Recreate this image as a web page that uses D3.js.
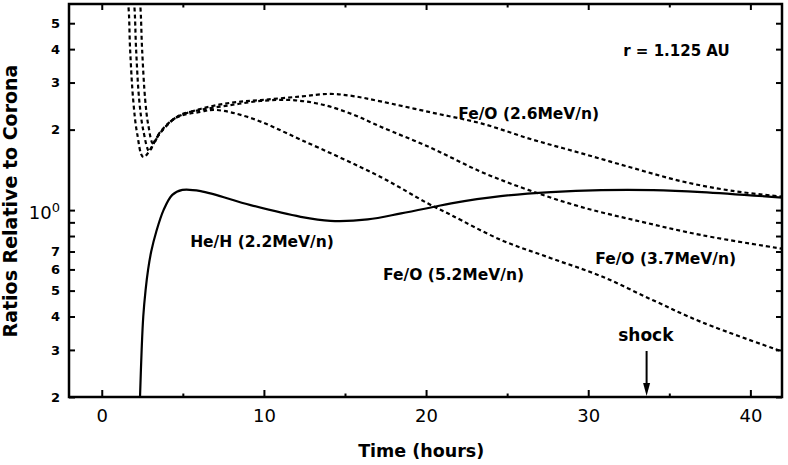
<!DOCTYPE html>
<html>
<head>
<meta charset="utf-8">
<script src="https://cdn.jsdelivr.net/npm/d3@7"></script>
<style>
  body { margin: 0; background: #fff; }
  svg { display: block; }
  text { font-family: "DejaVu Sans", sans-serif; fill: #000; }
</style>
</head>
<body>
<div id="chart"></div>
<script>
// Fe/O (2.6 MeV/n) - starts above the frame, dips, peaks late and decays slowly
const feo26Time  = [2.19, 2.37, 2.49, 2.68, 2.87, 3.17, 3.6, 4.54, 6.08, 7.94, 9.8, 12.27, 14.1, 15.5, 17.2, 20.3, 23.4, 26.5, 29.6, 32.7, 35.8, 38.9, 42.1];
const feo26Ratio = [7.26, 5.9, 3.97, 2.58, 2.08, 1.77, 1.96, 2.21, 2.39, 2.52, 2.58, 2.66, 2.72, 2.67, 2.55, 2.32, 2.11, 1.84, 1.63, 1.44, 1.28, 1.18, 1.12];

// Fe/O (3.7 MeV/n)
const feo37Time  = [1.8, 2.0, 2.12, 2.31, 2.56, 2.93, 3.3, 3.9, 4.85, 6.08, 7.94, 9.8, 11.65, 13.5, 15.4, 17.2, 20.3, 23.4, 26.3, 29.6, 33.3, 37.0, 42.1];
const feo37Ratio = [7.26, 5.9, 3.97, 2.58, 1.99, 1.66, 1.83, 2.04, 2.27, 2.37, 2.47, 2.56, 2.58, 2.49, 2.29, 2.05, 1.71, 1.39, 1.19, 1.026, 0.904, 0.806, 0.715];

// Fe/O (5.2 MeV/n) - earliest arrival, fastest decay
const feo52Time  = [1.37, 1.63, 1.75, 1.94, 2.18, 2.57, 3.6, 4.54, 6.08, 7.0, 9.2, 12.3, 17.2, 20.1, 21.55, 24.65, 27.7, 30.8, 34.0, 37.0, 42.1];
const feo52Ratio = [7.26, 5.9, 3.97, 2.58, 1.94, 1.58, 1.94, 2.21, 2.33, 2.37, 2.21, 1.83, 1.33, 1.06, 0.958, 0.772, 0.661, 0.566, 0.46, 0.381, 0.294];

// He/H (2.2 MeV/n) - solid curve
const hehTime  = [2.36, 2.46, 2.56, 2.70, 2.86, 3.05, 3.36, 3.81, 4.35, 4.97, 6.1, 9.18, 12.27, 14.1, 16.4, 18.46, 20.5, 21.55, 24.6, 27.7, 30.8, 34.0, 37.0, 42.1];
const hehRatio = [0.2, 0.3, 0.4, 0.5, 0.6, 0.7, 0.83, 1.0, 1.14, 1.19, 1.178, 1.044, 0.944, 0.912, 0.923, 0.972, 1.029, 1.06, 1.128, 1.168, 1.188, 1.188, 1.168, 1.112];

// Axis ticks
const xMajor = [0, 10, 20, 30, 40];
const xMinor = [5, 15, 25, 35];
const yMajor = [0.2, 0.3, 0.4, 0.5, 0.6, 0.7, 1, 2, 3, 4, 5];
const yMinor = [0.8, 0.9];

const shockTime = 33.6;

// Curve labels: [text, time at label start, ratio at baseline]
const curveLabels = [
  ["Fe/O (2.6MeV/n)", 21.98, 2.19],
  ["Fe/O (3.7MeV/n)", 30.43, 0.627],
  ["Fe/O (5.2MeV/n)", 17.35, 0.548],
  ["He/H (2.2MeV/n)", 5.45, 0.726],
  ["shock", 31.85, 0.324],
  ["r = 1.125 AU", 32.16, 3.78]
];

function drawChart() {
  const width = 788, height = 465;
  const margin = {top: 4, right: 6, bottom: 68, left: 69};
  const plotRight = width - margin.right, plotBottom = height - margin.bottom;

  const svg = d3.select("#chart")
    .append("svg")
    .attr("width", width)
    .attr("height", height);

  const x = d3.scaleLinear()
    .domain([-2.02, 41.95])
    .range([margin.left, plotRight]);

  const y = d3.scaleLog()
    .domain([0.2, 5.9])
    .range([plotBottom, margin.top]);

  // clip the curves to the frame
  svg.append("clipPath")
    .attr("id", "plotClip")
    .append("rect")
    .attr("x", margin.left)
    .attr("y", margin.top)
    .attr("width", plotRight - margin.left)
    .attr("height", plotBottom - margin.top);

  // centripetal Catmull-Rom copes with the near-vertical onsets
  const line = d3.line()
    .x(d => x(d[0]))
    .y(d => y(d[1]))
    .curve(d3.curveCatmullRom.alpha(0.5));

  const series = [
    {t: feo26Time, v: feo26Ratio, dash: "4,3"},
    {t: feo37Time, v: feo37Ratio, dash: "4,3"},
    {t: feo52Time, v: feo52Ratio, dash: "4,3"},
    {t: hehTime, v: hehRatio, dash: null}
  ];

  const curves = svg.append("g").attr("clip-path", "url(#plotClip)");
  curves.selectAll("path")
    .data(series)
    .enter()
    .append("path")
    .attr("d", s => line(s.t.map((t, i) => [t, s.v[i]])))
    .attr("fill", "none")
    .attr("stroke", "#000")
    .attr("stroke-width", 2.2)
    .attr("stroke-dasharray", s => s.dash);

  // ---- Axes (ticks pointing inward) ----
  const bottom = svg.append("g")
    .attr("transform", `translate(0,${plotBottom})`)
    .call(d3.axisBottom(x).tickValues(xMajor).tickSize(-7).tickPadding(12.5).tickFormat(d3.format("d")));
  bottom.selectAll("text").style("font-size", "18px");

  svg.append("g")
    .attr("transform", `translate(0,${plotBottom})`)
    .call(d3.axisBottom(x).tickValues(xMinor).tickSize(-3.5).tickFormat(""));

  svg.append("g")
    .attr("transform", `translate(0,${margin.top})`)
    .call(d3.axisTop(x).tickValues(xMajor).tickSize(-6).tickFormat(""));
  svg.append("g")
    .attr("transform", `translate(0,${margin.top})`)
    .call(d3.axisTop(x).tickValues(xMinor).tickSize(-3.5).tickFormat(""));

  const left = svg.append("g")
    .attr("transform", `translate(${margin.left},0)`)
    .call(d3.axisLeft(y).tickValues(yMajor.concat(yMinor)).tickSize(-6).tickPadding(9)
      .tickFormat(d => yMinor.includes(d) ? "" : d === 1 ? "" : (d < 1 ? Math.round(d * 10) : d)));
  left.selectAll("text")
    .style("font-size", "13px")
    .style("font-weight", "bold");

  // label 10^0 at the decade
  const decade = left.selectAll(".tick").filter(d => d === 1).select("text")
    .style("font-size", "18px")
    .style("font-weight", "normal")
    .attr("dy", "0.45em");
  decade.append("tspan").text("10");
  decade.append("tspan").text("0").attr("dy", "-0.55em").style("font-size", "13px");

  svg.append("g")
    .attr("transform", `translate(${plotRight},0)`)
    .call(d3.axisRight(y).tickValues(yMajor.concat(yMinor)).tickSize(-6).tickFormat(""));

  svg.selectAll(".domain").remove();
  svg.selectAll(".tick line").attr("stroke", "#000").attr("stroke-width", 2);

  // frame
  svg.append("rect")
    .attr("x", margin.left)
    .attr("y", margin.top)
    .attr("width", plotRight - margin.left)
    .attr("height", plotBottom - margin.top)
    .attr("fill", "none")
    .attr("stroke", "#000")
    .attr("stroke-width", 2.5);

  // axis titles
  svg.append("text")
    .attr("x", x(19.7))
    .attr("y", 456.5)
    .attr("text-anchor", "middle")
    .style("font-size", "17.5px")
    .style("font-weight", "bold")
    .text("Time (hours)");

  svg.append("text")
    .attr("transform", "translate(17,201) rotate(-90)")
    .attr("text-anchor", "middle")
    .style("font-size", "19px")
    .style("font-weight", "bold")
    .text("Ratios Relative to Corona");

  // curve labels
  svg.selectAll(".curve-label")
    .data(curveLabels)
    .enter()
    .append("text")
    .attr("class", "curve-label")
    .attr("x", d => x(d[1]))
    .attr("y", d => y(d[2]))
    .style("font-size", d => d[0] === "shock" ? "17px" : d[0][0] === "r" ? "15px" : "15.5px")
    .style("font-weight", "bold")
    .text(d => d[0]);

  // shock arrow
  const sx = x(shockTime);
  svg.append("line")
    .attr("x1", sx).attr("x2", sx)
    .attr("y1", 351).attr("y2", plotBottom - 8)
    .attr("stroke", "#000")
    .attr("stroke-width", 2);
  svg.append("path")
    .attr("d", `M${sx - 3.5},${plotBottom - 14}L${sx + 3.5},${plotBottom - 14}L${sx},${plotBottom - 1}Z`)
    .attr("fill", "#000");
}

drawChart();
</script>
</body>
</html>
